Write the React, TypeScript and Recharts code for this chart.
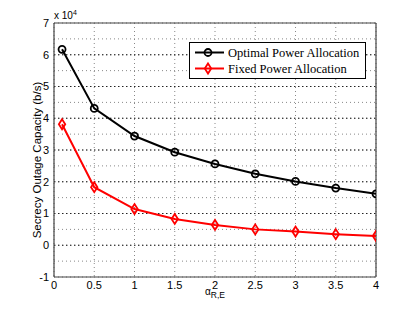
import { LineChart, Line, XAxis, YAxis, CartesianGrid, ReferenceLine } from 'recharts';

const alphaValues = [0.1, 0.5, 1, 1.5, 2, 2.5, 3, 3.5, 4];
const optimalCapacity = [61700, 43100, 34400, 29300, 25600, 22500, 20100, 18000, 16200];
const fixedCapacity = [38100, 18300, 11400, 8300, 6400, 5000, 4300, 3500, 2900];

const xTicks = [0, 0.5, 1, 1.5, 2, 2.5, 3, 3.5, 4];
// grid every half unit, labels only on whole units
const yTicks = [-10000, -5000, 0, 5000, 10000, 15000, 20000, 25000, 30000, 35000, 40000, 45000, 50000, 55000, 60000, 65000, 70000];
const yMajor = [0, 10000, 20000, 30000, 40000, 50000, 60000];

const data = alphaValues.map((a, i) => ({
  alpha: a,
  optimal: optimalCapacity[i],
  fixed: fixedCapacity[i],
}));

const sans = '"Liberation Sans", Arial, sans-serif';
const serif = '"Liberation Serif", "Times New Roman", serif';

function CircleDot(props: any) {
  const { cx, cy } = props;
  if (cx == null || cy == null) return null;
  return <circle cx={cx} cy={cy} r={3.5} fill="none" stroke="#000" strokeWidth={1.8} />;
}

function DiamondDot(props: any) {
  const { cx, cy } = props;
  if (cx == null || cy == null) return null;
  const w = 3.2;
  const h = 5;
  return (
    <path
      d={`M${cx},${cy - h} L${cx + w},${cy} L${cx},${cy + h} L${cx - w},${cy} Z`}
      fill="none"
      stroke="#ff0000"
      strokeWidth={1.8}
    />
  );
}

function LegendBox() {
  const rows = [
    { label: 'Optimal Power Allocation', color: '#000', marker: 'circle' },
    { label: 'Fixed Power Allocation', color: '#ff0000', marker: 'diamond' },
  ];
  return (
    <svg width={177} height={37} style={{ display: 'block' }}>
      <rect x={0.5} y={0.5} width={176} height={36} fill="#fff" stroke="#000" strokeWidth={1} />
      {rows.map((r, i) => {
        const y = 10.5 + i * 16;
        return (
          <g key={r.label}>
            <line x1={6} y1={y} x2={35} y2={y} stroke={r.color} strokeWidth={2} />
            {r.marker === 'circle' ? (
              <CircleDot cx={19} cy={y} />
            ) : (
              <DiamondDot cx={19} cy={y} />
            )}
            <text x={39} y={y + 4} fontFamily={serif} fontSize={12.5} fill="#000">
              {r.label}
            </text>
          </g>
        );
      })}
    </svg>
  );
}

export default function App() {
  return (
    <div style={{ position: 'absolute', left: 0, top: 0, width: 415, height: 313, background: '#fff' }}>
      <LineChart width={415} height={313} data={data} margin={{ top: 23, right: 39, left: 24, bottom: 16 }}>
        <CartesianGrid stroke="#888" strokeDasharray="1 3" />
        {yMajor.map((v) => (
          <ReferenceLine key={v} y={v} stroke="#222" strokeDasharray="1.5 2.5" strokeWidth={1} />
        ))}
        <XAxis
          dataKey="alpha"
          type="number"
          domain={[0, 4]}
          ticks={xTicks}
          tickLine={false}
          tickSize={0}
          axisLine={{ stroke: '#444', strokeWidth: 1.2 }}
          tick={{ fill: '#000', fontSize: 11, fontFamily: sans }}
          tickMargin={4}
          height={20}
          allowDataOverflow
        />
        <YAxis
          type="number"
          domain={[-10000, 70000]}
          ticks={yTicks}
          interval={0}
          tickFormatter={(v: number) => (v % 10000 === 0 ? String(v / 10000) : '')}
          tickLine={false}
          tickSize={0}
          axisLine={{ stroke: '#444', strokeWidth: 1.2 }}
          tick={{ fill: '#000', fontSize: 11, fontFamily: sans }}
          tickMargin={5}
          width={30}
          allowDataOverflow
        />
        <ReferenceLine y={70000} stroke="#444" strokeWidth={1.2} />
        <ReferenceLine x={4} stroke="#444" strokeWidth={1.2} />
        <Line
          dataKey="optimal"
          stroke="#000"
          strokeWidth={2}
          dot={<CircleDot />}
          activeDot={false}
          isAnimationActive={false}
        />
        <Line
          dataKey="fixed"
          stroke="#ff0000"
          strokeWidth={2}
          dot={<DiamondDot />}
          activeDot={false}
          isAnimationActive={false}
        />
        <text x={54} y={19} fontFamily={sans} fontSize={10} fill="#000">
          x 10
          <tspan dy={-4} fontSize={7}>4</tspan>
        </text>
        <text
          x={41}
          y={160}
          transform="rotate(-90 41 160)"
          textAnchor="middle"
          fontFamily={sans}
          fontSize={11.5}
          fill="#000"
        >
          Secrecy Outage Capacity (b/s)
        </text>
        <text x={205} y={295} fontFamily={sans} fontSize={10} fill="#000">
          α
          <tspan dy={3} fontSize={8.5}>R,E</tspan>
        </text>
      </LineChart>
      <div style={{ position: 'absolute', left: 189, top: 42 }}>
        <LegendBox />
      </div>
    </div>
  );
}
